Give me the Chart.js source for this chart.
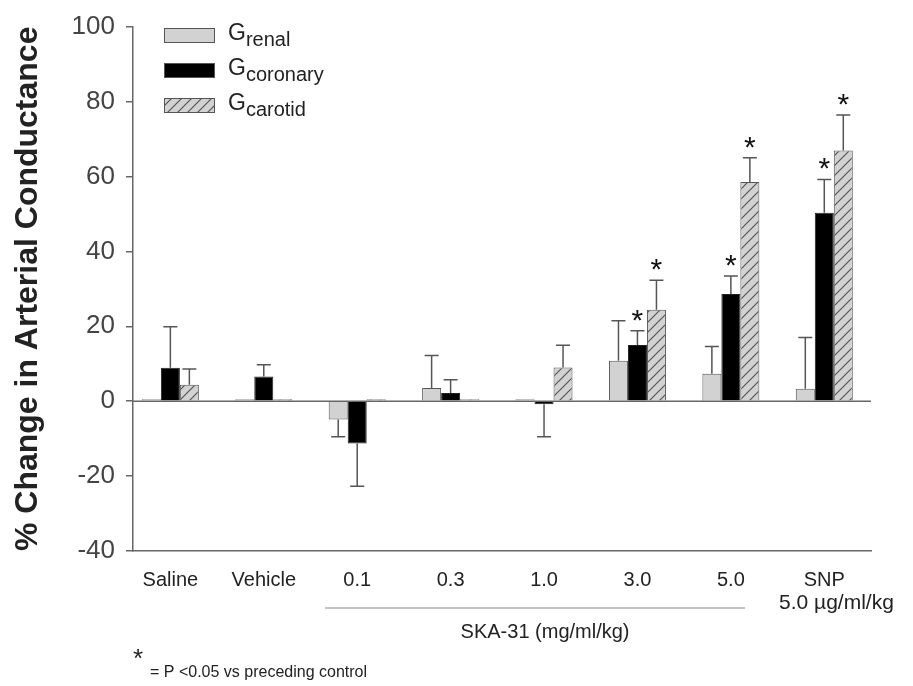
<!DOCTYPE html>
<html>
<head>
<meta charset="utf-8">
<script src="https://cdn.jsdelivr.net/npm/chart.js@4"></script>
<style>
  html, body { margin: 0; padding: 0; background: #fff; }
  #wrap { width: 913px; height: 686px; }
</style>
</head>
<body>
<div id="wrap"><canvas id="myChart"></canvas></div>
<script>
// groups along the x axis
const groups = ['Saline', 'Vehicle', '0.1', '0.3', '1.0', '3.0', '5.0', 'SNP'];

// % change in conductance (mean) and error (SEM)
const renal = [0.5, 0.5, -4.9, 3.5, 0.5, 10.8, 7.3, 3.3];
const renalErr = [0, 0, 4.6, 8.7, 0, 10.7, 7.3, 13.7];
const coronary = [8.9, 6.6, -11.3, 2.2, -0.8, 15.0, 28.6, 50.3];
const coronaryErr = [11.0, 3.1, 11.4, 3.5, 8.7, 3.8, 4.8, 8.9];
const carotid = [4.4, 0.5, 0.5, 0.5, 9.0, 24.4, 58.5, 66.9];
const carotidErr = [4.2, 0, 0, 0, 5.9, 7.9, 6.5, 9.5];

// significance markers (P < 0.05 vs preceding control)
const coronarySig = [false, false, false, false, false, true, true, true];
const carotidSig = [false, false, false, false, false, true, true, true];

const yTicks = [-40, -20, 0, 20, 40, 60, 80, 100];

const FONT = "'Liberation Sans', Arial, sans-serif";

// diagonal hatch for the carotid bars
function makeHatch() {
    const c = document.createElement('canvas');
    c.width = 10; c.height = 10;
    const g = c.getContext('2d');
    g.fillStyle = '#d2d2d2';
    g.fillRect(0, 0, 10, 10);
    g.strokeStyle = '#555';
    g.lineWidth = 1.2;
    g.beginPath();
    g.moveTo(-2, 12); g.lineTo(12, -2);
    g.moveTo(-7, 7); g.lineTo(7, -7);
    g.moveTo(3, 17); g.lineTo(17, 3);
    g.stroke();
    return document.createElement('canvas').getContext('2d').createPattern(c, 'repeat');
}
const hatch = makeHatch();

const toPoints = arr => arr.map((v, i) => ({ x: i, y: v }));

const ctx = document.getElementById('myChart');

// error bars, significance stars, zero line
const extras = {
    id: 'extras',
    afterDatasetsDraw(chart) {
        const c = chart.ctx;
        const y = chart.scales.y;
        const area = chart.chartArea;

        c.save();
        c.strokeStyle = '#666';
        c.lineWidth = 1.5;
        c.beginPath();
        c.moveTo(area.left, y.getPixelForValue(0));
        c.lineTo(area.right, y.getPixelForValue(0));
        c.stroke();

        const errs = [renalErr, coronaryErr, carotidErr];
        const sigs = [null, coronarySig, carotidSig];
        chart.data.datasets.forEach((ds, d) => {
            const meta = chart.getDatasetMeta(d);
            meta.data.forEach((bar, i) => {
                const v = ds.data[i].y;
                const e = errs[d][i];
                let tipY = bar.y;
                if (e > 0) {
                    const end = v >= 0 ? v + e : v - e;
                    tipY = y.getPixelForValue(end);
                    c.strokeStyle = '#555';
                    c.lineWidth = 1.5;
                    c.beginPath();
                    c.moveTo(bar.x, bar.y);
                    c.lineTo(bar.x, tipY);
                    c.moveTo(bar.x - 7, tipY);
                    c.lineTo(bar.x + 7, tipY);
                    c.stroke();
                }
                if (sigs[d] && sigs[d][i]) {
                    c.fillStyle = '#111';
                    c.font = '30px ' + FONT;
                    c.textAlign = 'center';
                    c.textBaseline = 'alphabetic';
                    c.fillText('*', bar.x, tipY - 1);
                }
            });
        });
        c.restore();
    },
    afterDraw(chart) {
        const c = chart.ctx;
        const x = chart.scales.x;
        c.save();

        // legend with subscripts
        const items = [
            { fill: '#d2d2d2', sub: 'renal' },
            { fill: '#000', sub: 'coronary' },
            { fill: hatch, sub: 'carotid' }
        ];
        items.forEach((it, k) => {
            const top = 28 + k * 35;
            c.fillStyle = it.fill;
            c.fillRect(164, top, 51, 15);
            c.strokeStyle = '#555';
            c.lineWidth = 1;
            c.strokeRect(164.5, top + 0.5, 50, 14);
            c.fillStyle = '#222';
            c.textAlign = 'left';
            c.textBaseline = 'alphabetic';
            c.font = '23px ' + FONT;
            c.fillText('G', 228, top + 12);
            const gw = c.measureText('G').width;
            c.font = '20px ' + FONT;
            c.fillText(it.sub, 228 + gw, top + 18);
        });

        // SKA-31 dose bracket
        c.strokeStyle = '#888';
        c.lineWidth = 1.2;
        c.beginPath();
        c.moveTo(325, 608);
        c.lineTo(745, 608);
        c.stroke();
        c.fillStyle = '#222';
        c.font = '20px ' + FONT;
        c.textAlign = 'center';
        c.textBaseline = 'middle';
        c.fillText('SKA-31 (mg/ml/kg)', (x.getPixelForValue(2) + x.getPixelForValue(6)) / 2 + 1, 632);
        c.textAlign = 'left';
        c.font = '21px ' + FONT;
        c.fillText('5.0 \u00b5g/ml/kg', 779, 603);

        // footnote
        c.font = '26px ' + FONT;
        c.fillText('*', 133, 660);
        c.font = '16px ' + FONT;
        c.fillText('= P <0.05 vs preceding control', 150, 673);
        c.restore();
    }
};

new Chart(ctx, {
    type: 'bar',
    data: {
        datasets: [
            {
                label: 'Grenal',
                data: toPoints(renal),
                backgroundColor: '#d2d2d2',
                borderColor: '#555',
                borderWidth: 1,
            },
            {
                label: 'Gcoronary',
                data: toPoints(coronary),
                backgroundColor: '#000',
                borderColor: '#222',
                borderWidth: 1,
            },
            {
                label: 'Gcarotid',
                data: toPoints(carotid),
                backgroundColor: hatch,
                borderColor: '#555',
                borderWidth: 1,
            },
        ]
    },
    options: {
        responsive: true,
        maintainAspectRatio: false,
        animation: false,
        layout: { padding: { top: 22, right: 42, left: 0, bottom: 0 } },
        datasets: {
            bar: { barPercentage: 1, categoryPercentage: 0.61, grouped: true }
        },
        scales: {
            x: {
                type: 'linear',
                offset: false,
                min: -0.4,
                max: 7.5,
                afterBuildTicks: s => { s.ticks = groups.map((_, i) => ({ value: i })); },
                afterFit: s => { s.height = 135; },
                grid: { display: false },
                border: { display: true, color: '#666', width: 1.5 },
                ticks: {
                    callback: v => groups[v],
                    color: '#222',
                    font: { family: FONT, size: 20 },
                    padding: 9,
                    maxRotation: 0,
                    autoSkip: false,
                }
            },
            y: {
                min: -40,
                max: 100,
                afterBuildTicks: s => { s.ticks = yTicks.map(v => ({ value: v })); },
                afterFit: s => { s.width = 133; },
                grid: { drawOnChartArea: false, tickLength: 7, color: '#666', lineWidth: 1.5 },
                border: { display: true, color: '#666', width: 1.5 },
                ticks: {
                    color: '#444',
                    font: { family: FONT, size: 26 },
                    padding: 11,
                },
                title: {
                    display: true,
                    text: '% Change in Arterial Conductance',
                    color: '#222',
                    font: { family: FONT, size: 32, weight: 'bold' },
                    padding: { top: 9, bottom: 0 },
                }
            }
        },
        plugins: {
            legend: { display: false },
            tooltip: { enabled: false },
        }
    },
    plugins: [extras]
});
</script>
</body>
</html>
